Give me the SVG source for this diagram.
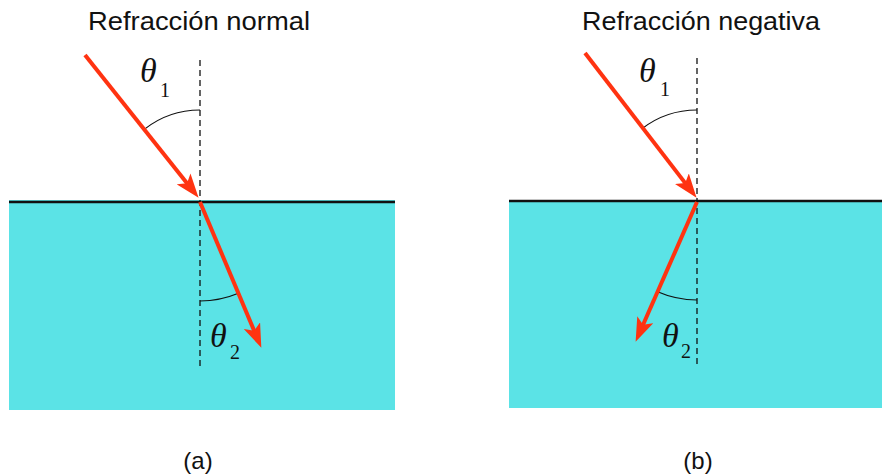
<svg xmlns="http://www.w3.org/2000/svg" width="884" height="474" viewBox="0 0 884 474">
<style>
.title{font-family:"Liberation Sans",Arial,sans-serif;font-size:25px;fill:#111}
.cap{font-family:"Liberation Sans",Arial,sans-serif;font-size:24px;fill:#111;text-anchor:middle}
.th{font-family:"Liberation Serif","Times New Roman",serif;font-size:34px;font-style:italic;fill:#111}
.sub{font-family:"Liberation Serif","Times New Roman",serif;font-size:20px;fill:#111}
.water{fill:#5BE3E6}
.surf{stroke:#111;stroke-width:2.5}
.normal{stroke:#111;stroke-width:1.3;stroke-dasharray:6,4;fill:none}
.arc{stroke:#111;stroke-width:1.2;fill:none}
.ray{stroke:#FF3311;stroke-width:4;fill:none;marker-end:url(#ah)}
</style>
<defs>
<marker id="ah" markerUnits="userSpaceOnUse" markerWidth="24" markerHeight="18" refX="12" refY="8" orient="auto" viewBox="0 0 22 16">
<path d="M0,0 L22,8 L0,16 L5,8 z" fill="#FF3311"/>
</marker>
</defs>
<g id="panel-a">
<text class="title" x="88" y="30" textLength="222" lengthAdjust="spacingAndGlyphs">Refracción normal</text>
<rect class="water" x="9" y="200" width="386" height="210"/>
<line class="surf" x1="9" y1="202" x2="395" y2="202"/>
<line class="normal" x1="200" y1="60" x2="200" y2="367"/>
<path class="arc" d="M200,110 A90,90 0 0 0 144.2,129.4"/>
<path class="arc" d="M200,301 A99,99 0 0 0 238.4,293.3"/>
<text class="th" x="140" y="82">θ</text><text class="sub" x="160" y="97">1</text>
<text class="th" x="210" y="347">θ</text><text class="sub" x="230" y="359">2</text>
<text class="cap" x="198" y="469">(a)</text>
</g>
<g id="panel-b">
<text class="title" x="582" y="30" textLength="238" lengthAdjust="spacingAndGlyphs">Refracción negativa</text>
<rect class="water" x="509" y="200" width="373" height="208"/>
<line class="surf" x1="509" y1="201" x2="882" y2="201"/>
<line class="normal" x1="697" y1="58" x2="697" y2="367"/>
<path class="arc" d="M697,110 A90,90 0 0 0 642,128.7"/>
<path class="arc" d="M697,300 A98,98 0 0 1 657.6,291.8"/>
<text class="th" x="639" y="82">θ</text><text class="sub" x="660" y="96">1</text>
<text class="th" x="662" y="347">θ</text><text class="sub" x="681" y="358">2</text>
<text class="cap" x="698" y="469">(b)</text>
</g>
<g id="connectors">
<line class="ray" x1="85" y1="55" x2="191.8" y2="189.2"/>
<line class="ray" x1="200" y1="202" x2="257.1" y2="337.8"/>
<line class="ray" x1="585" y1="53" x2="689.9" y2="189.1"/>
<line class="ray" x1="697" y1="202" x2="640" y2="331.8"/>
</g>
</svg>
